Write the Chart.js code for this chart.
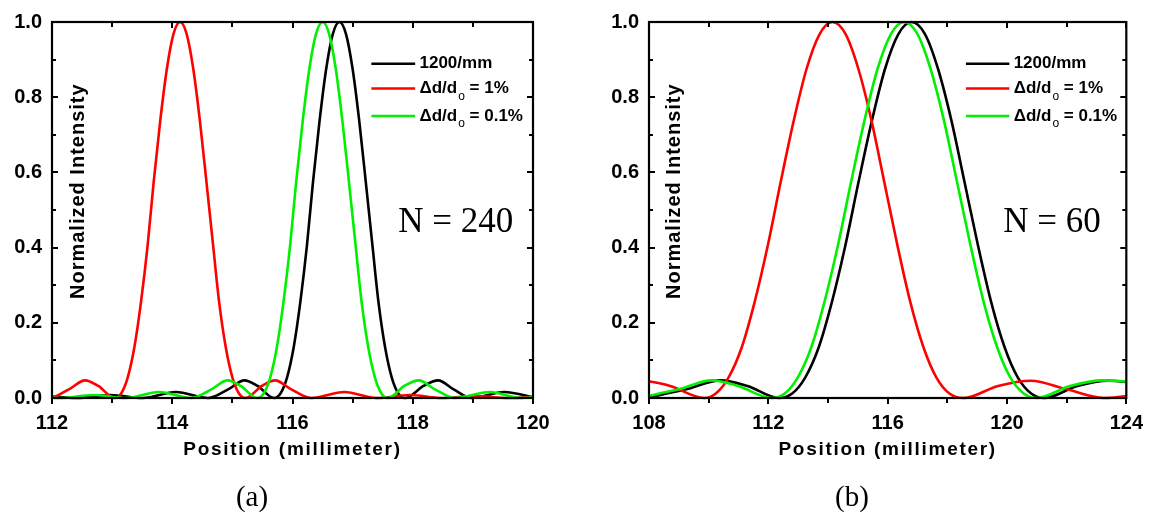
<!DOCTYPE html>
<html>
<head>
<meta charset="utf-8">
<script src="https://cdn.jsdelivr.net/npm/chart.js@4.4.1/dist/chart.umd.min.js"></script>
<style>
  html, body { margin: 0; padding: 0; background: #fff; }
  #wrap { position: relative; width: 1156px; height: 514px; overflow: hidden; }
  canvas { position: absolute; top: 0; }
  #cA { left: 0; }
  #cB { left: 578px; }
  .cap { position: absolute; top: 481px; width: 100px; text-align: center;
         font-family: "Liberation Serif", serif; font-size: 29px; line-height: 30px; }
</style>
</head>
<body>
<div id="wrap">
  <canvas id="cA" width="578" height="514"></canvas>
  <canvas id="cB" width="578" height="514"></canvas>
  <div class="cap" style="left:202px">(a)</div>
  <div class="cap" style="left:802px">(b)</div>
</div>
<script>
// ---- panel (a), N = 240 ----
const aXTicks = [112, 114, 116, 118, 120];
const aXMinor = [113, 115, 117, 119];
const aBlackX = [111.88, 112.42, 112.97, 113.51, 114.06, 114.60, 114.93, 115.20, 115.42, 115.69,
  115.80, 115.91, 116.02, 116.13, 116.24, 116.34, 116.45, 116.56, 116.67, 116.78,
  116.89, 117.00, 117.11, 117.22, 117.33, 117.43, 117.54, 117.65, 117.76, 117.87,
  118.18, 118.42, 118.68, 118.98, 119.52, 120.05];
const aBlackY = [0.005, 0, 0.008, 0, 0.016, 0, 0.023, 0.047, 0.032, 0,
  0.012, 0.055, 0.135, 0.255, 0.405, 0.573, 0.737, 0.875, 0.968, 1,
  0.968, 0.875, 0.737, 0.573, 0.405, 0.255, 0.135, 0.055, 0.012, 0,
  0.032, 0.047, 0.023, 0, 0.016, 0];
const aRedX = [111.41, 111.95, 112.28, 112.55, 112.77, 113.04,
  113.15, 113.26, 113.37, 113.48, 113.59, 113.69, 113.80, 113.91, 114.02, 114.13,
  114.24, 114.35, 114.46, 114.57, 114.68, 114.78, 114.89, 115.00, 115.11, 115.22,
  115.49, 115.71, 115.98, 116.31, 116.86, 117.40, 117.95, 118.49, 119.04, 119.58, 120.13];
const aRedY = [0.016, 0, 0.023, 0.047, 0.032, 0,
  0.012, 0.055, 0.135, 0.255, 0.405, 0.573, 0.737, 0.875, 0.968, 1,
  0.968, 0.875, 0.737, 0.573, 0.405, 0.255, 0.135, 0.055, 0.012, 0,
  0.032, 0.047, 0.023, 0, 0.016, 0, 0.008, 0, 0.005, 0, 0.004];
const aGreenX = [111.60, 112.14, 112.69, 113.23, 113.78, 114.32, 114.65, 114.92, 115.14, 115.41,
  115.52, 115.63, 115.74, 115.85, 115.96, 116.06, 116.17, 116.28, 116.39, 116.50,
  116.61, 116.72, 116.83, 116.94, 117.05, 117.15, 117.26, 117.37, 117.48, 117.59,
  117.86, 118.10, 118.37, 118.70, 119.28, 119.80, 120.32];
const aGreenY = [0.005, 0, 0.008, 0, 0.016, 0, 0.023, 0.047, 0.032, 0,
  0.012, 0.055, 0.135, 0.255, 0.405, 0.573, 0.737, 0.875, 0.968, 1,
  0.968, 0.875, 0.737, 0.573, 0.405, 0.255, 0.135, 0.055, 0.012, 0,
  0.032, 0.047, 0.023, 0, 0.016, 0, 0.008];

// ---- panel (b), N = 60 ----
const bXTicks = [108, 112, 116, 120, 124];
const bXMinor = [110, 114, 118, 122];
const bBlackX = [107.90, 109.24, 110.40, 111.30, 112.35,
  112.80, 113.24, 113.69, 114.13, 114.58, 115.02, 115.47, 115.91, 116.36, 116.80,
  117.25, 117.69, 118.14, 118.58, 119.03, 119.47, 119.92, 120.36, 120.81, 121.25,
  122.36, 123.40, 124.30];
const bBlackY = [0, 0.023, 0.047, 0.032, 0,
  0.012, 0.055, 0.135, 0.255, 0.405, 0.573, 0.737, 0.875, 0.968, 1,
  0.968, 0.875, 0.737, 0.573, 0.405, 0.255, 0.135, 0.055, 0.012, 0,
  0.032, 0.046, 0.040];
const bRedX = [107.84, 108.71, 109.85,
  110.24, 110.67, 111.11, 111.54, 111.98, 112.41, 112.85, 113.28, 113.72, 114.15,
  114.59, 115.02, 115.46, 115.89, 116.33, 116.76, 117.20, 117.63, 118.07, 118.55,
  119.70, 120.80, 122.00, 123.25, 125.03];
const bRedY = [0.047, 0.032, 0,
  0.012, 0.055, 0.135, 0.255, 0.405, 0.573, 0.737, 0.875, 0.968, 1,
  0.968, 0.875, 0.737, 0.573, 0.405, 0.255, 0.135, 0.055, 0.012, 0,
  0.032, 0.046, 0.023, 0, 0.016];
const bGreenX = [107.65, 108.99, 110.10, 110.99, 112.10,
  112.55, 112.99, 113.44, 113.88, 114.33, 114.77, 115.22, 115.66, 116.11, 116.55,
  117.00, 117.44, 117.89, 118.33, 118.78, 119.22, 119.67, 120.11, 120.56, 121.00,
  122.11, 123.20, 124.20];
const bGreenY = [0, 0.023, 0.047, 0.032, 0,
  0.012, 0.055, 0.135, 0.255, 0.405, 0.573, 0.737, 0.875, 0.968, 1,
  0.968, 0.875, 0.737, 0.573, 0.405, 0.255, 0.135, 0.055, 0.012, 0,
  0.032, 0.047, 0.043];

const yTicks = [0, 0.2, 0.4, 0.6, 0.8, 1.0];
const yMinor = [0.1, 0.3, 0.5, 0.7, 0.9];
const legendRows = [
  { color: '#000000', main: '1200/mm', sub: '', rest: '' },
  { color: '#ff0000', main: '\u0394d/d', sub: 'o', rest: ' = 1%' },
  { color: '#00f000', main: '\u0394d/d', sub: 'o', rest: ' = 0.1%' }
];

const SANS = '"Liberation Sans", Arial, sans-serif';

const deco = {
  id: 'deco',
  afterDraw(chart, args, o) {
    const { ctx, chartArea: a } = chart;
    const sx = chart.scales.x, sy = chart.scales.y;
    ctx.save();
    ctx.strokeStyle = '#000';
    ctx.lineWidth = 2.2;
    ctx.strokeRect(a.left, a.top, a.width, a.height);

    // ticks: bottom outward, others inward
    ctx.lineWidth = 2;
    ctx.beginPath();
    const xt = (v, len) => {
      const px = Math.round(sx.getPixelForValue(v));
      ctx.moveTo(px, a.bottom); ctx.lineTo(px, a.bottom + len);
      ctx.moveTo(px, a.top); ctx.lineTo(px, a.top + len);
    };
    const yt = (v, len) => {
      const py = Math.round(sy.getPixelForValue(v));
      ctx.moveTo(a.left, py); ctx.lineTo(a.left + len, py);
      ctx.moveTo(a.right, py); ctx.lineTo(a.right - len, py);
    };
    o.xTicks.forEach(v => xt(v, 6));
    o.xMinor.forEach(v => xt(v, 5));
    yTicks.forEach(v => yt(v, 6));
    yMinor.forEach(v => yt(v, 4));
    ctx.stroke();

    // axis titles
    ctx.fillStyle = '#000';
    ctx.letterSpacing = '1.7px';
    ctx.font = 'bold 19px ' + SANS;
    ctx.textAlign = 'center';
    ctx.textBaseline = 'middle';
    ctx.fillText('Position (millimeter)', (a.left + a.right) / 2, 450);
    ctx.save();
    ctx.letterSpacing = '1px';
    ctx.font = 'bold 20px ' + SANS;
    ctx.translate(a.left + o.yTitleX * a.width, a.bottom - 0.55 * a.height);
    ctx.rotate(-Math.PI / 2);
    ctx.fillText('Normalized Intensity', 0, 0);
    ctx.restore();
    ctx.letterSpacing = '0px';

    // legend
    const lx0 = a.left + 0.664 * a.width, lx1 = a.left + 0.755 * a.width;
    const tx = a.left + 0.764 * a.width;
    const rowsY = [0.889, 0.823, 0.75];
    ctx.textAlign = 'left';
    legendRows.forEach((r, i) => {
      const py = a.bottom - rowsY[i] * a.height;
      ctx.strokeStyle = r.color;
      ctx.lineWidth = 2.5;
      ctx.beginPath(); ctx.moveTo(lx0, py); ctx.lineTo(lx1, py); ctx.stroke();
      ctx.font = 'bold 17px ' + SANS;
      ctx.fillText(r.main, tx, py);
      let x = tx + ctx.measureText(r.main).width;
      if (r.sub) {
        ctx.font = '12px ' + SANS;
        ctx.fillText(r.sub, x + 1, py + 8);
        x += ctx.measureText(r.sub).width + 1;
        ctx.font = 'bold 17px ' + SANS;
        ctx.fillText(r.rest, x, py);
      }
    });

    // N label
    ctx.font = '35px "Liberation Serif", serif';
    ctx.fillText(o.nText, a.left + o.nX * a.width, a.bottom - 0.466 * a.height);
    ctx.restore();
  }
};

function makePanel(id, xMin, xMax, xTicks, xMinor, yAxisW, padRight, series, nText, nX, yTitleX) {
  return new Chart(document.getElementById(id), {
    type: 'line',
    data: {
      datasets: series.map(s => ({
        label: s.label,
        data: s.x.map((v, i) => ({ x: v, y: s.y[i] })),
        borderColor: s.color,
        borderWidth: 2.6,
        pointRadius: 0,
        cubicInterpolationMode: 'monotone',
        order: s.order,
        clip: { left: 0, right: 0, top: 4, bottom: 4 }
      }))
    },
    options: {
      responsive: false,
      animation: false,
      devicePixelRatio: 1,
      layout: { padding: { top: 20, right: padRight, left: 0, bottom: 0 } },
      plugins: {
        legend: { display: false },
        tooltip: { enabled: false },
        deco: { xTicks: xTicks, xMinor: xMinor, nText: nText, nX: nX, yTitleX: yTitleX }
      },
      scales: {
        x: {
          type: 'linear', min: xMin, max: xMax,
          grid: { display: false, drawTicks: false, tickLength: 0 },
          border: { display: false },
          afterBuildTicks: sc => { sc.ticks = xTicks.map(v => ({ value: v })); },
          afterFit: sc => { sc.height = 116; },
          ticks: { color: '#000', padding: 13, maxRotation: 0,
                   font: { family: SANS, size: 20, weight: 'bold' } }
        },
        y: {
          min: 0, max: 1,
          grid: { display: false, drawTicks: false, tickLength: 0 },
          border: { display: false },
          afterBuildTicks: sc => { sc.ticks = yTicks.map(v => ({ value: v })); },
          afterFit: sc => { sc.width = yAxisW; },
          ticks: { color: '#000', padding: 10,
                   font: { family: SANS, size: 20, weight: 'bold' },
                   callback: v => v.toFixed(1) }
        }
      }
    },
    plugins: [deco]
  });
}

makePanel('cA', 112, 120, aXTicks, aXMinor, 52, 45, [
  { label: '1200/mm', x: aBlackX, y: aBlackY, color: '#000000', order: 3 },
  { label: '\u0394d/do = 1%', x: aRedX, y: aRedY, color: '#ff0000', order: 2 },
  { label: '\u0394d/do = 0.1%', x: aGreenX, y: aGreenY, color: '#00f000', order: 1 }
], 'N = 240', 0.72, 0.055);

makePanel('cB', 108, 124, bXTicks, bXMinor, 71, 26, [
  { label: '1200/mm', x: bBlackX, y: bBlackY, color: '#000000', order: 3 },
  { label: '\u0394d/do = 1%', x: bRedX, y: bRedY, color: '#ff0000', order: 2 },
  { label: '\u0394d/do = 0.1%', x: bGreenX, y: bGreenY, color: '#00f000', order: 1 }
], 'N = 60', 0.742, 0.053);
</script>
</body>
</html>
